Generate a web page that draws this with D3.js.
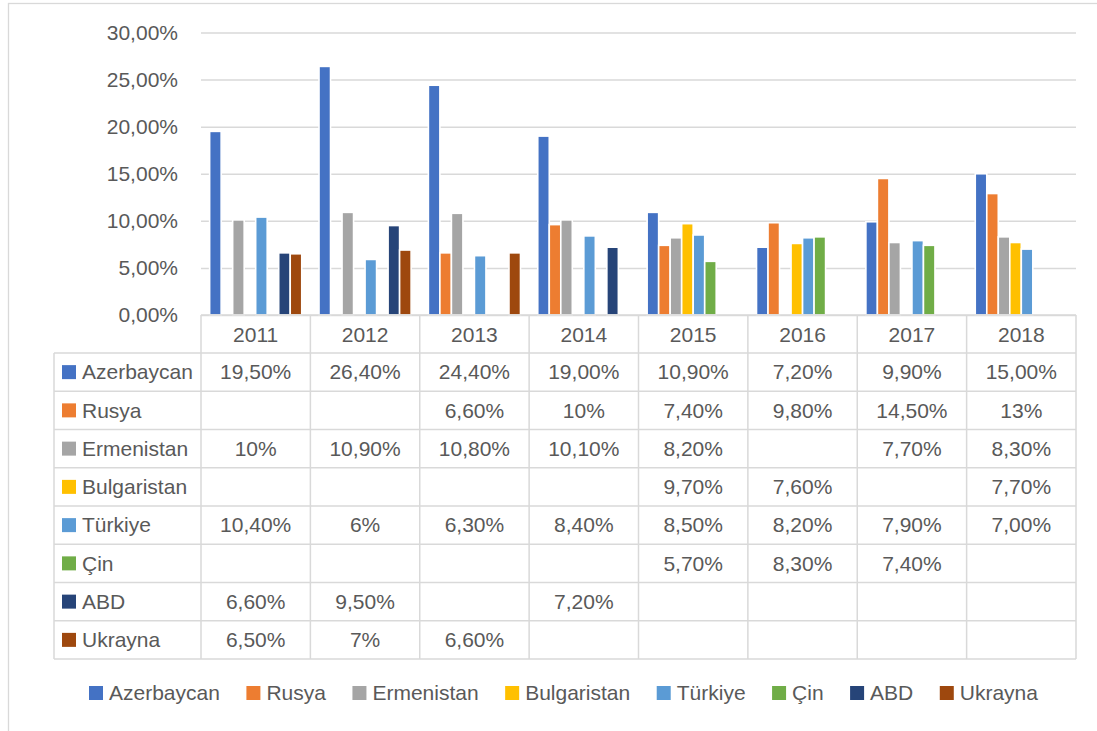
<!DOCTYPE html>
<html>
<head>
<meta charset="utf-8">
<script src="https://cdn.jsdelivr.net/npm/d3@7"></script>
<style>
  body { margin: 0; background: #fff; }
  svg text { font-family: "Liberation Sans", Arial, sans-serif; fill: #595959; }
</style>
</head>
<body>
<svg id="chart" width="1097" height="731"></svg>
<script>
// categories
const years = ["2011", "2012", "2013", "2014", "2015", "2016", "2017", "2018"];
const seriesNames = ["Azerbaycan", "Rusya", "Ermenistan", "Bulgaristan", "Türkiye", "Çin", "ABD", "Ukrayna"];
const seriesColors = ["#4472C4", "#ED7D31", "#A5A5A5", "#FFC000", "#5B9BD5", "#70AD47", "#264478", "#9E480E"];

// series values (null = no value)
const azerbaycan  = [0.195, 0.264, 0.244, 0.190, 0.109, 0.072, 0.099, 0.150];
const rusya       = [null, null, 0.066, 0.096, 0.074, 0.098, 0.145, 0.129];
const ermenistan  = [0.101, 0.109, 0.108, 0.101, 0.082, null, 0.077, 0.083];
const bulgaristan = [null, null, null, null, 0.097, 0.076, null, 0.077];
const turkiye     = [0.104, 0.059, 0.063, 0.084, 0.085, 0.082, 0.079, 0.070];
const cin         = [null, null, null, null, 0.057, 0.083, 0.074, null];
const abd         = [0.066, 0.095, null, 0.072, null, null, null, null];
const ukrayna     = [0.065, 0.069, 0.066, null, null, null, null, null];

// data table cells shown without decimals ("series|year")
const wholePercentCells = ["Ermenistan|2011", "Rusya|2014", "Türkiye|2012", "Ukrayna|2012", "Rusya|2018"];

const yTicks = [0, 0.05, 0.10, 0.15, 0.20, 0.25, 0.30];

const seriesValues = [azerbaycan, rusya, ermenistan, bulgaristan, turkiye, cin, abd, ukrayna];

const trLocale = d3.formatLocale({ decimal: ",", thousands: ".", grouping: [3], currency: ["", "₺"] });
const pctFormat = trLocale.format(".2%");
const pctWhole = trLocale.format(".0%");

let svg = d3.select("#chart");
let gridColor = "#D9D9D9";
let fontSize = 21;

let plotLeft = 201, plotRight = 1076, plotTop = 32.5, plotBottom = 315;
let tableLeft = 54, rowTop = 353, rowH = 38.25;

// chart border
svg.append("rect")
    .attr("x", 8.5)
    .attr("y", 3.5)
    .attr("width", 1100)
    .attr("height", 740)
    .attr("fill", "none")
    .attr("stroke", gridColor)
    .attr("stroke-width", 1.3);

let xScale = d3.scaleBand()
    .domain(years)
    .range([plotLeft, plotRight]);

let xInner = d3.scaleBand()
    .domain(seriesNames)
    .range([0, xScale.bandwidth()])
    .paddingInner(0)
    .paddingOuter(0.75);

let yScale = d3.scaleLinear()
    .domain([0, 0.30])
    .range([plotBottom, plotTop]);

// y axis + gridlines
let yAxis = svg.append("g")
    .attr("transform", "translate(" + plotLeft + ",0)")
    .call(d3.axisLeft(yScale)
        .tickValues(yTicks)
        .tickFormat(pctFormat)
        .tickSize(-(plotRight - plotLeft))
        .tickPadding(23));
yAxis.select(".domain").remove();
yAxis.selectAll("line")
    .attr("stroke", gridColor)
    .attr("stroke-width", 1.5);
yAxis.selectAll("text")
    .style("font-size", fontSize + "px")
    .style("font-family", "Liberation Sans, Arial, sans-serif")
    .attr("fill", "#595959");

// bars
seriesNames.forEach(function(name, si) {
    let vals = seriesValues[si];
    svg.append("g")
        .selectAll("rect")
        .data(years.map(function(y, i) { return { year: y, v: vals[i] }; }).filter(function(d) { return d.v !== null; }))
        .enter()
        .append("rect")
        .attr("x", function(d) { return xScale(d.year) + xInner(name); })
        .attr("y", function(d) { return yScale(d.v); })
        .attr("width", xInner.bandwidth())
        .attr("height", function(d) { return plotBottom - yScale(d.v); })
        .attr("fill", seriesColors[si])
        .attr("stroke", "#fff")
        .attr("stroke-width", 1.6);
});

// data table
let table = svg.append("g");
let tableBottom = rowTop + rowH * seriesNames.length;

table.append("line")
    .attr("x1", plotLeft).attr("x2", plotRight)
    .attr("y1", plotBottom).attr("y2", plotBottom);
for (let i = 0; i <= seriesNames.length; i++) {
    table.append("line")
        .attr("x1", tableLeft).attr("x2", plotRight)
        .attr("y1", rowTop + i * rowH).attr("y2", rowTop + i * rowH);
}
table.append("line")
    .attr("x1", tableLeft).attr("x2", tableLeft)
    .attr("y1", rowTop).attr("y2", tableBottom);
years.forEach(function(y) {
    table.append("line")
        .attr("x1", xScale(y)).attr("x2", xScale(y))
        .attr("y1", plotBottom).attr("y2", tableBottom);
});
table.append("line")
    .attr("x1", plotRight).attr("x2", plotRight)
    .attr("y1", plotBottom).attr("y2", tableBottom);
table.selectAll("line")
    .attr("stroke", gridColor)
    .attr("stroke-width", 1.5);

// year header
table.selectAll(".yearLabel")
    .data(years)
    .enter()
    .append("text")
    .attr("x", function(d) { return xScale(d) + xScale.bandwidth() / 2; })
    .attr("y", (plotBottom + rowTop) / 2 + 1)
    .attr("dy", "0.35em")
    .attr("text-anchor", "middle")
    .style("font-size", fontSize + "px")
    .text(function(d) { return d; });

// series rows
seriesNames.forEach(function(name, si) {
    let cy = rowTop + si * rowH + rowH / 2;
    table.append("rect")
        .attr("x", 62)
        .attr("y", cy - 7)
        .attr("width", 14)
        .attr("height", 14)
        .attr("fill", seriesColors[si]);
    table.append("text")
        .attr("x", 82)
        .attr("y", cy)
        .attr("dy", "0.35em")
        .style("font-size", fontSize + "px")
        .text(name);
    seriesValues[si].forEach(function(v, i) {
        if (v === null) return;
        let whole = wholePercentCells.indexOf(name + "|" + years[i]) >= 0;
        table.append("text")
            .attr("x", xScale(years[i]) + xScale.bandwidth() / 2)
            .attr("y", cy)
            .attr("dy", "0.35em")
            .attr("text-anchor", "middle")
            .style("font-size", fontSize + "px")
            .text(whole ? pctWhole(v) : pctFormat(v));
    });
});

// legend
let legend = svg.append("g");
let lx = 89, ly = 693;
seriesNames.forEach(function(name, si) {
    legend.append("rect")
        .attr("x", lx)
        .attr("y", ly - 7)
        .attr("width", 14)
        .attr("height", 14)
        .attr("fill", seriesColors[si]);
    let t = legend.append("text")
        .attr("x", lx + 20)
        .attr("y", ly)
        .attr("dy", "0.35em")
        .style("font-size", fontSize + "px")
        .text(name);
    lx += 20 + t.node().getComputedTextLength() + 26.5;
});
</script>
</body>
</html>
